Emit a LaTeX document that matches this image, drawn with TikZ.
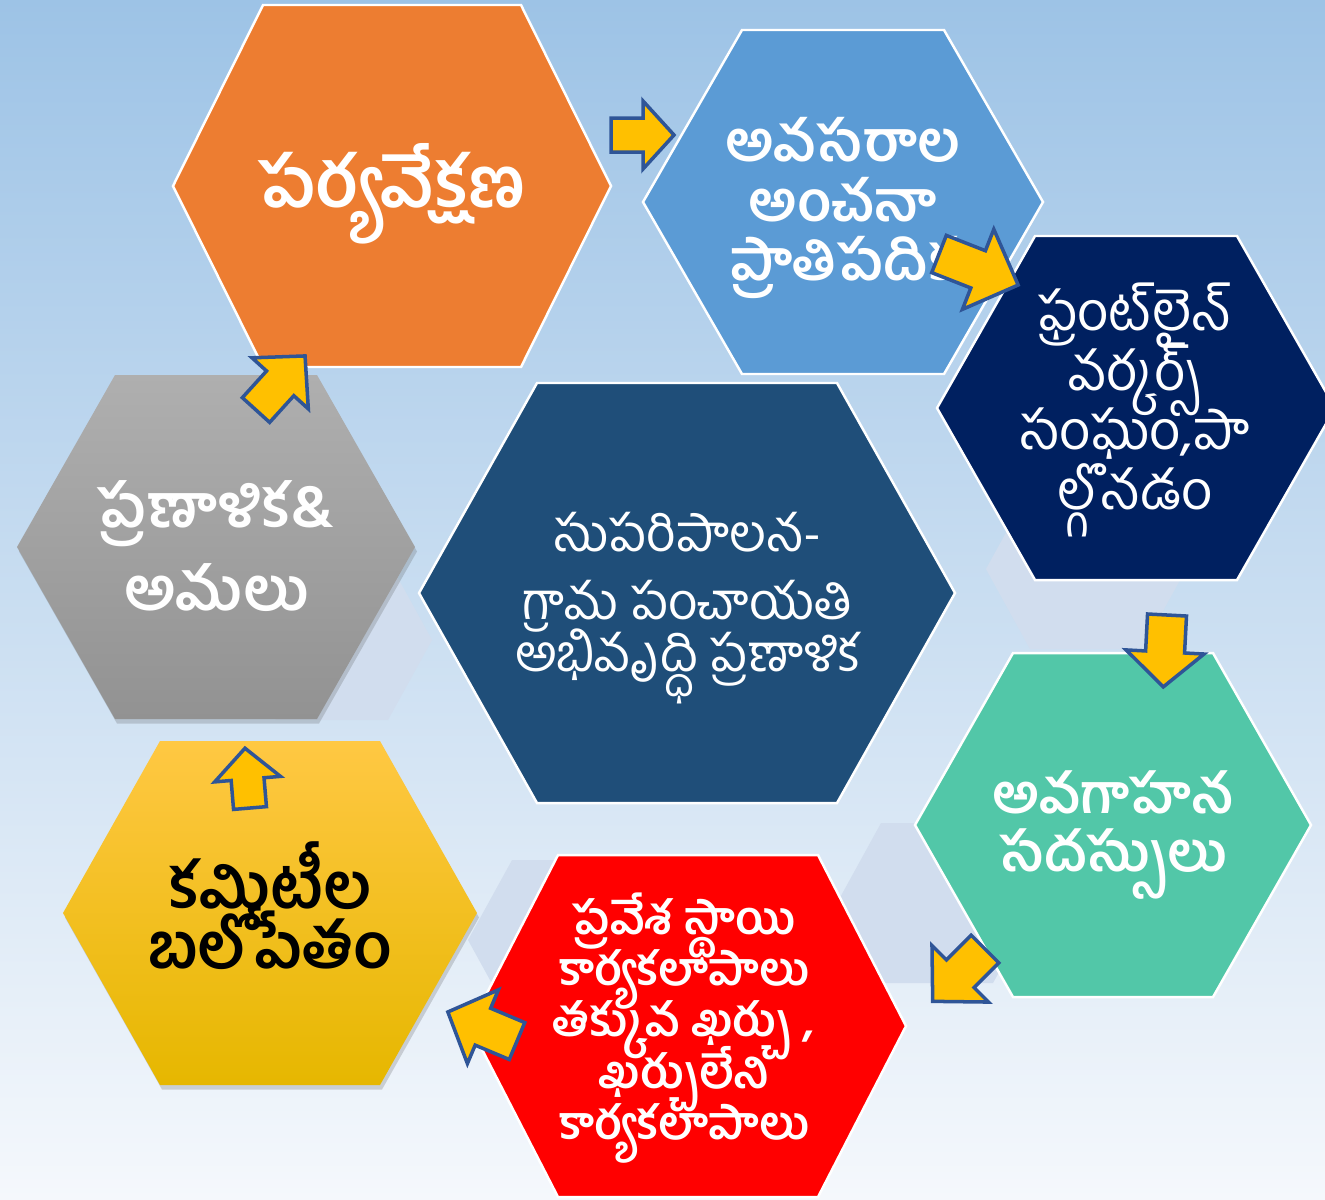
\documentclass[tikz,border=0pt]{standalone}
\usepackage{fontspec}
\newfontfamily\telugu[Script=Telugu]{Hind Guntur}
\usepackage{tikz}
\usetikzlibrary{shadows}

\definecolor{bgtop}{HTML}{9DC3E6}
\definecolor{bgbottom}{HTML}{F5F8FC}
\definecolor{paleblue}{HTML}{D1DDEE}
\definecolor{hexorange}{HTML}{ED7D31}
\definecolor{hexblue}{HTML}{5B9BD5}
\definecolor{hexnavy}{HTML}{002060}
\definecolor{hexcentre}{HTML}{1F4E79}
\definecolor{hexteal}{HTML}{52C7A8}
\definecolor{hexred}{HTML}{FF0000}
\definecolor{greytop}{HTML}{AFAFAF}
\definecolor{greybottom}{HTML}{929292}
\definecolor{goldtop}{HTML}{FFC843}
\definecolor{goldmid}{HTML}{FFC000}
\definecolor{goldbottom}{HTML}{E6B700}
\definecolor{arrowfill}{HTML}{FFC000}
\definecolor{arrowline}{HTML}{2F5597}

% fixed baseline distance, whatever the height of the glyphs
\newcommand{\telsize}[2]{\telugu\fontsize{#1}{#2}\selectfont\lineskiplimit=-\maxdimen}

\tikzset{
  hexline/.style={draw=white, line width=0.7pt},
  softshadow/.style={drop shadow={shadow xshift=0.2mm, shadow yshift=-0.45mm, opacity=0.22, fill=black!70}},
  arrowbox/.style={fill=arrowfill, draw=arrowline, line width=1pt, line join=miter},
  hextext/.style={align=center, text=white, inner sep=0pt},
}

% hexagon: centre x, centre y, half width, half height, inset of the corners
\newcommand{\hexagon}[6][]{%
  \path[#1] ({#2-#4},#3) -- ({#2-#4+#6},{#3-#5}) -- ({#2+#4-#6},{#3-#5})
    -- ({#2+#4},#3) -- ({#2+#4-#6},{#3+#5}) -- ({#2-#4+#6},{#3+#5}) -- cycle;}

% block arrow: tail x, tail y, angle, length, head length, shaft half width, head half width
\newcommand{\blockarrow}[7]{%
  \begin{scope}[shift={(#1,#2)}, rotate=#3]
    \draw[arrowbox] (0,-#6) -- ({#4-#5},-#6) -- ({#4-#5},-#7) -- (#4,0)
      -- ({#4-#5},#7) -- ({#4-#5},#6) -- (0,#6) -- cycle;
  \end{scope}}

\begin{document}
\begin{tikzpicture}[x=0.1mm, y=-0.1mm]
    \useasboundingbox (0,0) rectangle (1325,1199);
    % Background
    \fill[top color=bgtop, bottom color=bgbottom] (0,0) rectangle (1325,1199);

    % Pale hexagons behind
    \hexagon[fill=paleblue]{332}{640}{100}{80}{44}
    \hexagon[fill=paleblue]{1086}{569}{100}{80}{44}
    \hexagon[fill=paleblue]{937}{903}{100}{80}{44}
    \hexagon[fill=paleblue]{568}{940}{100}{80}{44}

    % The cycle
    \hexagon[fill=hexorange, hexline]{392}{186}{219}{181}{90}
    \hexagon[fill=hexblue, hexline]{843}{202}{200}{172}{99}
    \hexagon[fill=hexnavy, hexline]{1136}{408}{199}{172}{98}
    \hexagon[fill=hexteal, hexline]{1113}{825}{198}{172}{98}
    \hexagon[fill=hexred, hexline]{688}{1026}{218}{171}{88}
    \hexagon[top color=goldtop, middle color=goldmid, bottom color=goldbottom, softshadow]{270}{913}{207}{172}{97}
    \hexagon[top color=greytop, bottom color=greybottom, softshadow]{216}{547}{199}{172}{98}
    \hexagon[fill=hexcentre, hexline]{687}{593}{268}{210}{118}

    % Texts
    \node[hextext, font=\telsize{20}{24}\bfseries] (monitor) at (392,194) {పర్యవేక్షణ};
    \node[hextext, font=\telsize{16}{16.8}\bfseries] (needs) at (843,208) {అవసరాల\\అంచనా\\ప్రాతిపదిక};
    \node[hextext, font=\telsize{15.5}{17}] (frontline) at (1135,410) {ఫ్రంట్‌లైన్\\వర్కర్స్\\సంఘం,పా\\ల్గొనడం};
    \node[hextext, font=\telsize{17}{23.6}\bfseries] (plan) at (216,546) {ప్రణాళిక\&\\అమలు};
    \node[hextext, font=\telsize{14.6}{14.8}] (gpdp) at (688,608) {సుపరిపాలన-\\[4.5pt]గ్రామ పంచాయతి\\అభివృద్ధి ప్రణాళిక};
    \node[hextext, font=\telsize{15.5}{16.5}\bfseries] (awareness) at (1113,835) {అవగాహన\\సదస్సులు};
    \node[hextext, font=\telsize{13}{14.6}\bfseries] (entry) at (684,1028) {ప్రవేశ స్థాయి\\కార్యకలాపాలు\\తక్కువ ఖర్చు ,\\ఖర్చులేని\\కార్యకలాపాలు};
    \node[hextext, text=black, font=\telsize{18}{17}\bfseries] (committees) at (270,906) {కమిటీల\\బలోపేతం};

    % Arrows round the cycle
    \blockarrow{611}{135}{0}{63}{31}{17}{34}
    \blockarrow{939}{254}{-21.4}{85}{43}{20}{43}
    \blockarrow{1167}{615}{-93}{72}{35}{19.5}{39}
    \blockarrow{985}{949}{-135}{74}{39}{19.5}{40}
    \blockarrow{517}{1041}{157.2}{75}{38}{20}{40}
    \blockarrow{250}{808}{94.8}{60}{31}{16.5}{33}
    \blockarrow{256}{410}{47.8}{73}{37}{18.4}{38}
\end{tikzpicture}
\end{document}
